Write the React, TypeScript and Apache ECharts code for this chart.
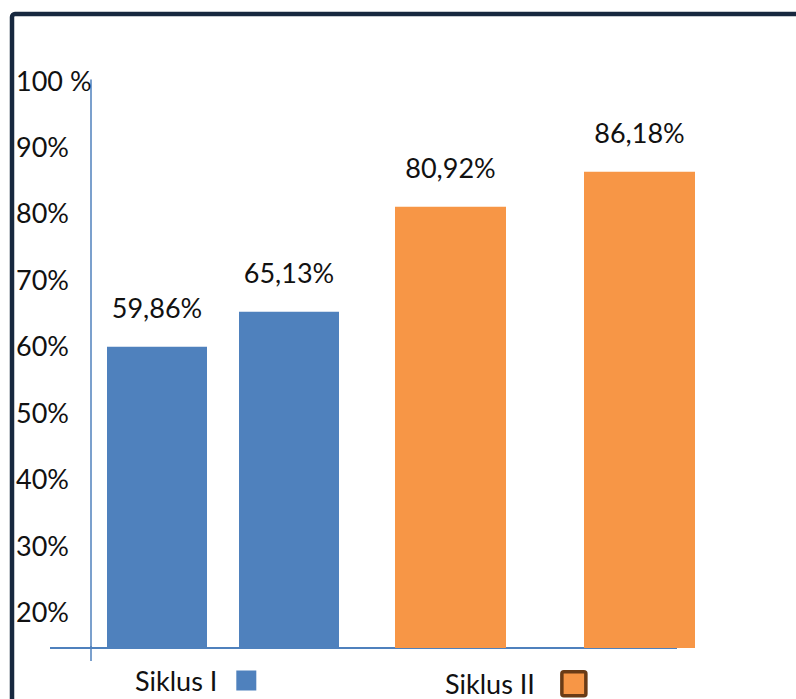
import { useEffect, useRef } from 'react';
import * as echarts from 'echarts';

const cycleNames = ['Siklus I', 'Siklus II'];
const meetingCategories = ['Pertemuan 1', 'Pertemuan 2'];
const siklusIValues = [59.86, 65.13];
const siklusIIValues = [80.92, 86.18];
const yTickValues = [20, 30, 40, 50, 60, 70, 80, 90, 100];
const yTickLabels = ['20%', '30%', '40%', '50%', '60%', '70%', '80%', '90%', '100 %'];

const BLUE = '#4F81BD';
const ORANGE = '#F79646';
const FONT = 'Lato, "Noto Sans", sans-serif';

const fmtPct = (v: number) => v.toFixed(2).replace('.', ',') + '%';

export default function App() {
  const ref = useRef<HTMLDivElement>(null);
  useEffect(() => {
    if (!ref.current) return;
    const chart = echarts.init(ref.current, null, { renderer: 'svg' });
    const yBase = { type: 'value', min: 14.5, max: 100 };
    const valueLabel = {
      show: true,
      position: 'top',
      distance: 26,
      color: '#111',
      fontSize: 27,
      fontFamily: FONT,
      formatter: (p: any) => fmtPct(p.value),
    };
    chart.setOption({
      animation: false,
      backgroundColor: '#fff',
      grid: [
        { left: 91, width: 264, top: 80, bottom: 51 },
        { left: 356, width: 378, top: 80, bottom: 51 },
      ],
      xAxis: [0, 1].map((i) => ({
        type: 'category',
        gridIndex: i,
        data: meetingCategories,
        axisLine: { show: false },
        axisTick: { show: false },
        axisLabel: { show: false },
      })),
      yAxis: [
        {
          ...yBase,
          gridIndex: 0,
          axisLine: { show: true, lineStyle: { color: BLUE, width: 1.5 } },
          axisTick: { show: false },
          splitLine: { show: false },
          axisLabel: {
            customValues: yTickValues,
            formatter: (v: number) => yTickLabels[yTickValues.indexOf(Math.round(v))] ?? '',
            align: 'left',
            margin: 75,
            color: '#111',
            fontSize: 27,
            fontFamily: FONT,
          },
        },
        {
          ...yBase,
          gridIndex: 1,
          show: false,
          splitLine: { show: false },
        },
      ],
      legend: [
        {
          data: [cycleNames[0]],
          left: 135,
          top: 667,
          padding: 0,
          align: 'right',
          itemWidth: 20,
          itemHeight: 20,
          icon: 'rect',
          itemStyle: { borderWidth: 0 },
          textStyle: { color: '#111', fontSize: 27, fontFamily: FONT, padding: [0, 14, 0, 0] },
        },
        {
          data: [cycleNames[1]],
          left: 445,
          top: 670,
          padding: 0,
          align: 'right',
          itemWidth: 24,
          itemHeight: 24,
          icon: 'path://M2,0 L22,0 Q24,0 24,2 L24,22 Q24,24 22,24 L2,24 Q0,24 0,22 L0,2 Q0,0 2,0 Z',
          itemStyle: { color: ORANGE, borderColor: '#6A3B16', borderWidth: 3.5 },
          textStyle: { color: '#111', fontSize: 27, fontFamily: FONT, padding: [0, 22, 0, 0] },
        },
      ],
      series: [
        {
          name: cycleNames[0],
          type: 'bar',
          xAxisIndex: 0,
          yAxisIndex: 0,
          barWidth: 100,
          data: siklusIValues,
          itemStyle: { color: BLUE },
          label: valueLabel,
        },
        {
          name: cycleNames[1],
          type: 'bar',
          xAxisIndex: 1,
          yAxisIndex: 1,
          barWidth: 111,
          data: siklusIIValues,
          itemStyle: { color: ORANGE, borderWidth: 0 },
          label: valueLabel,
        },
      ],
      graphic: [
        {
          type: 'rect',
          shape: { x: 12, y: 14, width: 820, height: 720, r: 3 },
          style: { fill: 'none', stroke: '#17283F', lineWidth: 4.5 },
          silent: true,
        },
        {
          type: 'line',
          shape: { x1: 50, y1: 648, x2: 677, y2: 648 },
          style: { stroke: BLUE, lineWidth: 2 },
          silent: true,
        },
        {
          type: 'line',
          shape: { x1: 91, y1: 646, x2: 91, y2: 661 },
          style: { stroke: BLUE, lineWidth: 1.5 },
          silent: true,
        },
      ],
    });
    return () => chart.dispose();
  }, []);
  return (
    <div
      ref={ref}
      style={{ position: 'fixed', left: 0, top: 0, width: 796, height: 699 }}
    />
  );
}
